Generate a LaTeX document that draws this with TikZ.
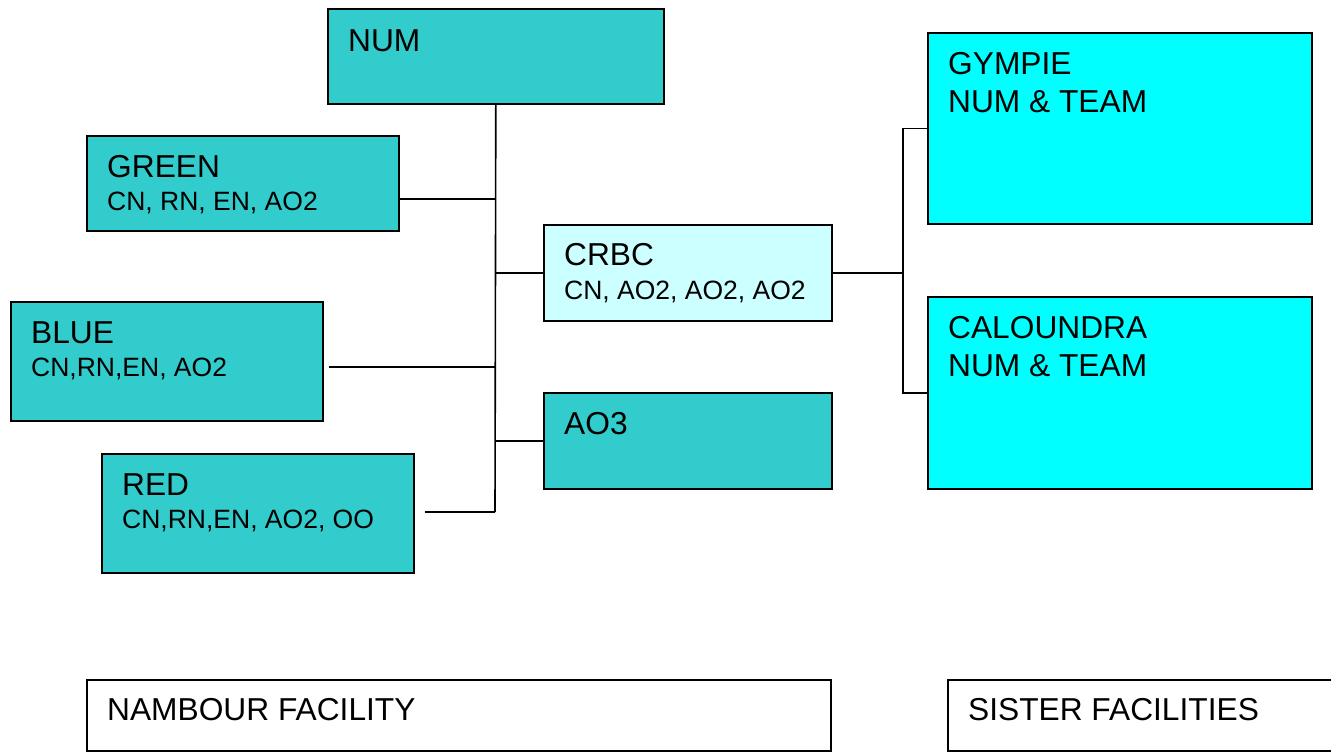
\documentclass[tikz,border=0pt]{standalone}
\usepackage{fontspec}
\setmainfont{Liberation Sans}
\definecolor{teal1}{HTML}{33CCCC}
\definecolor{lightc}{HTML}{CCFFFF}
\definecolor{cyan1}{HTML}{00FFFF}
\newcommand{\bigtxt}{\fontsize{31.7}{37.7}\selectfont}
\newcommand{\smalltxt}{\fontsize{26.5}{31}\selectfont}
\begin{document}
\begin{tikzpicture}[x=1pt,y=-1pt,
  box/.style={draw=black, line width=1.6pt, inner sep=0pt, anchor=north west},
  lbl/.style={anchor=base west, inner sep=0pt, font=\bigtxt},
  sub/.style={anchor=base west, inner sep=0pt, font=\smalltxt},
  conn/.style={draw=black, line width=1.6pt}]
\useasboundingbox (0,0) rectangle (1331,755);
\fill[white] (0,0) rectangle (1331,755);
% boxes
\node[box, fill=teal1, minimum width=336, minimum height=95] (num) at (327,8) {};
\node[box, fill=teal1, minimum width=312, minimum height=95] (green) at (86,135) {};
\node[box, fill=teal1, minimum width=312, minimum height=119] (blue) at (10,301) {};
\node[box, fill=teal1, minimum width=312, minimum height=119] (red) at (101,453) {};
\node[box, fill=lightc, minimum width=288, minimum height=96] (crbc) at (543,224) {};
\node[box, fill=teal1, minimum width=288, minimum height=96] (ao3) at (543,392) {};
\node[box, fill=cyan1, minimum width=384, minimum height=191] (gympie) at (927,32) {};
\node[box, fill=cyan1, minimum width=384, minimum height=192] (calo) at (927,296) {};
\node[box, fill=white, minimum width=744, minimum height=71] (nambour) at (86,679) {};
\node[box, fill=white, minimum width=400, minimum height=71] (sister) at (947,679) {};
% texts
\node[lbl] (numT) at (348,51) {NUM};
\node[lbl] (greenT) at (107,177) {GREEN};
\node[sub] (greenS) at (107,210) {CN, RN, EN, AO2};
\node[lbl] (blueT) at (31,343) {BLUE};
\node[sub] (blueS) at (31,376) {CN,RN,EN, AO2};
\node[lbl] (redT) at (122,495) {RED};
\node[sub] (redS) at (122,528) {CN,RN,EN, AO2, OO};
\node[lbl] (crbcT) at (564,265) {CRBC};
\node[sub] (crbcS) at (564,299) {CN, AO2, AO2, AO2};
\node[lbl] (ao3T) at (564,434) {AO3};
\node[lbl] (gympieT) at (948,74) {GYMPIE};
\node[lbl] (gympieS) at (948,112) {NUM \& TEAM};
\node[lbl] (caloT) at (948,338) {CALOUNDRA};
\node[lbl] (caloS) at (948,376) {NUM \& TEAM};
\node[lbl] (nambourT) at (107,720) {NAMBOUR FACILITY};
\node[lbl] (sisterT) at (968,720) {SISTER FACILITIES};
% junction coordinates
\coordinate (tG) at (495,199);
\coordinate (tB) at (495,367);
\coordinate (tR) at (495,512);
\coordinate (jR) at (903,272);
% connectors
\draw[conn] (num.south) -- (tR);
\draw[conn] (green.east |- tG) -- (tG);
\draw[conn] ([xshift=5pt]blue.east |- tB) -- (tB);
\draw[conn] ([xshift=10pt]red.east |- tR) -- (tR);
\draw[conn] (crbc.west) -- (crbc.west -| tG);
\draw[conn] (ao3.west) -- (ao3.west -| tG);
\draw[conn] (crbc.east) -- (crbc.east -| jR);
\draw[conn] (gympie.west) -- (gympie.west -| jR) -- (calo.west -| jR) -- (calo.west);
\end{tikzpicture}
\end{document}
